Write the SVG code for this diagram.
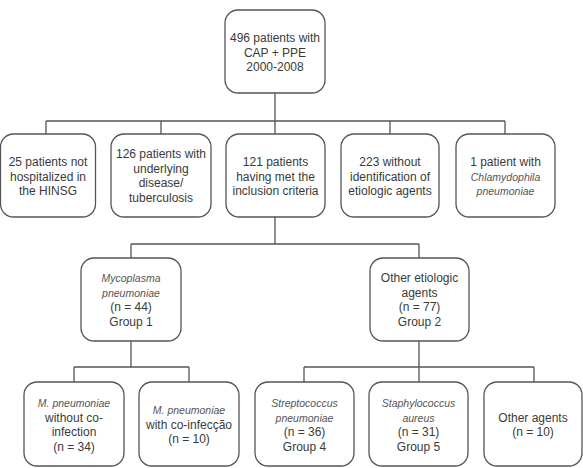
<svg xmlns="http://www.w3.org/2000/svg" width="583" height="468" viewBox="0 0 583 468">
<style>
.box{fill:#fff;stroke:#555;stroke-width:1.3}
.ln{fill:none;stroke:#555;stroke-width:1.3}
text{font-family:"Liberation Sans",Arial,sans-serif;font-size:12px;fill:#3a3a3a;text-anchor:middle}
.it{font-style:italic;font-size:10.5px;fill:#555}
</style>
<rect width="583" height="468" fill="#fff"/>
<g id="connectors">
<path class="ln" d="M275,93V134M46,121H505M46,121V134M161,121V134M390,121V134M505,121V134"/>
<path class="ln" d="M275,217V244M131,244H419M131,244V258M419,244V258"/>
<path class="ln" d="M131,341V367M74,367H189M74,367V382M189,367V382"/>
<path class="ln" d="M419,341V367M304,367H534M304,367V382M419,367V382M534,367V382"/>
</g>
<g id="n_top"><rect class="box" x="225" y="10" width="100" height="83" rx="13"/>
<text x="275" y="42">496 patients with</text><text x="275" y="56.5">CAP + PPE</text><text x="275" y="71">2000-2008</text></g>
<g id="n_notHosp"><rect class="box" x="0.5" y="134" width="95" height="83" rx="13"/>
<text x="48" y="166">25 patients not</text><text x="48" y="180.5">hospitalized in</text><text x="48" y="195">the HINSG</text></g>
<g id="n_underlying"><rect class="box" x="111" y="134" width="100" height="83" rx="13"/>
<text x="161" y="158">126 patients with</text><text x="161" y="172.5">underlying</text><text x="161" y="187">disease/</text><text x="161" y="201.5">tuberculosis</text></g>
<g id="n_included"><rect class="box" x="226" y="134" width="99" height="83" rx="13"/>
<text x="275.5" y="166">121 patients</text><text x="275.5" y="180.5">having met the</text><text x="275.5" y="195">inclusion criteria</text></g>
<g id="n_without"><rect class="box" x="341" y="134" width="98" height="83" rx="13"/>
<text x="390" y="166">223 without</text><text x="390" y="180.5">identification of</text><text x="390" y="195">etiologic agents</text></g>
<g id="n_chlamydophila"><rect class="box" x="456" y="134" width="99" height="83" rx="13"/>
<text x="505.5" y="166">1 patient with</text><text class="it" x="505.5" y="180.5">Chlamydophila</text><text class="it" x="505.5" y="195">pneumoniae</text></g>
<g id="n_mycoplasma"><rect class="box" x="81" y="258" width="100" height="83" rx="13"/>
<text class="it" x="131" y="282">Mycoplasma</text><text class="it" x="131" y="296.5">pneumoniae</text><text x="131" y="311">(n = 44)</text><text x="131" y="325.5">Group 1</text></g>
<g id="n_other"><rect class="box" x="370" y="258" width="99" height="83" rx="13"/>
<text x="419.5" y="282">Other etiologic</text><text x="419.5" y="296.5">agents</text><text x="419.5" y="311">(n = 77)</text><text x="419.5" y="325.5">Group 2</text></g>
<g id="n_mp_without"><rect class="box" x="24" y="382" width="100" height="84" rx="13"/>
<text class="it" x="74" y="407">M. pneumoniae</text><text x="74" y="421.5">without co-</text><text x="74" y="436">infection</text><text x="74" y="450.5">(n = 34)</text></g>
<g id="n_mp_with"><rect class="box" x="139" y="382" width="100" height="84" rx="13"/>
<text class="it" x="189" y="414">M. pneumoniae</text><text x="189" y="428.5">with co-infecção</text><text x="189" y="443">(n = 10)</text></g>
<g id="n_strep"><rect class="box" x="255" y="382" width="99" height="84" rx="13"/>
<text class="it" x="304.5" y="407">Streptococcus</text><text class="it" x="304.5" y="421.5">pneumoniae</text><text x="304.5" y="436">(n = 36)</text><text x="304.5" y="450.5">Group 4</text></g>
<g id="n_staph"><rect class="box" x="369" y="382" width="99" height="84" rx="13"/>
<text class="it" x="418.5" y="407">Staphylococcus</text><text class="it" x="418.5" y="421.5">aureus</text><text x="418.5" y="436">(n = 31)</text><text x="418.5" y="450.5">Group 5</text></g>
<g id="n_otherAgents"><rect class="box" x="484" y="382" width="98" height="84" rx="13"/>
<text x="533" y="421.5">Other agents</text><text x="533" y="436">(n = 10)</text></g>
</svg>
